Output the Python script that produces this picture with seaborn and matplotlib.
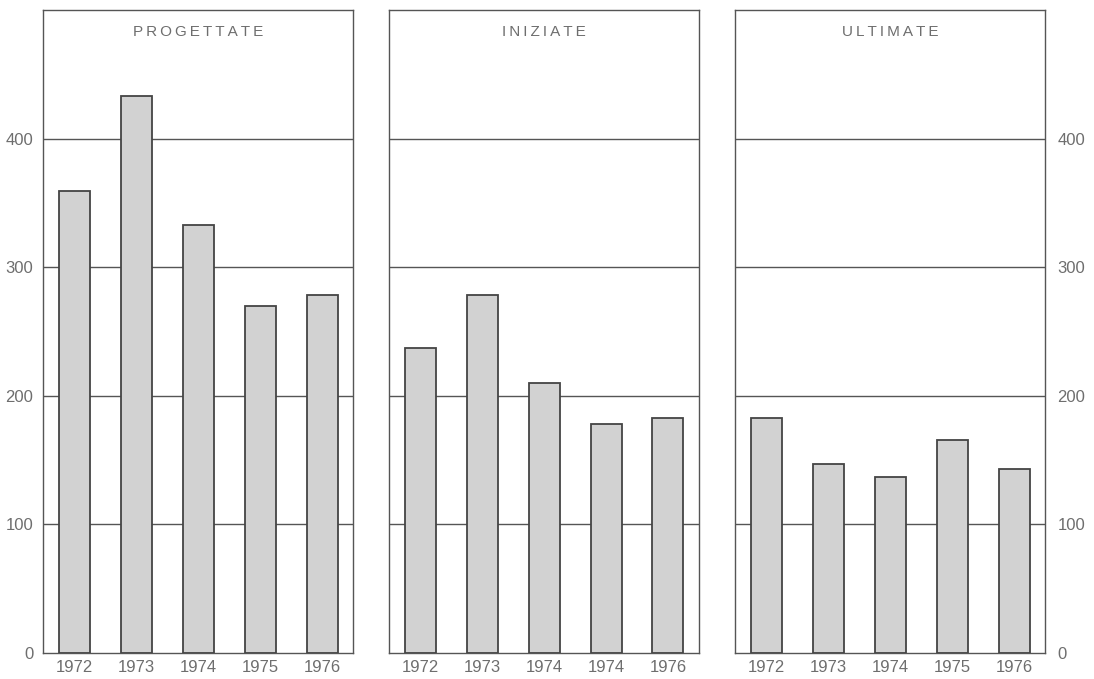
import matplotlib
matplotlib.use("Agg")
import matplotlib.pyplot as plt
import seaborn as sns

# ------------------------------------------------------------
# dati (valori stimati)
# ------------------------------------------------------------
anni = ["1972", "1973", "1974", "1975", "1976"]
etichette_iniziate = ["1972", "1973", "1974", "1974", "1976"]  # come nell'originale

progettate = [359, 433, 333, 270, 278]
iniziate = [237, 278, 210, 178, 183]
ultimate = [183, 147, 137, 166, 143]

titoli = ["PROGETTATE", "INIZIATE", "ULTIMATE"]
serie = [progettate, iniziate, ultimate]
etichette = [anni, etichette_iniziate, anni]
yticks = [0, 100, 200, 300, 400]

sns.set_theme(style="white")
plt.rcParams["font.family"] = ["Liberation Sans", "DejaVu Sans"]

GRIGIO_TESTO = "#6e6e6e"
GRIGIO_LINEE = "#555555"
RIEMPIMENTO = "#d2d2d2"

fig = plt.figure(figsize=(10.94, 6.79), dpi=100)

sinistre = [43 / 1094, 389 / 1094, 735 / 1094]
larghezza = 310 / 1094
basso = 26 / 679
altezza = 643 / 679

for i, (titolo, valori, labels) in enumerate(zip(titoli, serie, etichette)):
    ax = fig.add_axes([sinistre[i], basso, larghezza, altezza])
    posizioni = list(range(len(valori)))
    sns.barplot(x=posizioni, y=valori, ax=ax, color=RIEMPIMENTO,
                edgecolor="#444444", linewidth=1.3, width=0.5,
                saturation=1, zorder=3)
    ax.set_xlim(-0.5, len(valori) - 0.5)
    ax.set_ylim(0, 500)
    ax.set_xticks(posizioni)
    ax.set_xticklabels(labels)
    ax.set_yticks(yticks)
    ax.set_xlabel("")
    ax.set_ylabel("")

    # linee orizzontali di riferimento
    for v in yticks[1:]:
        ax.axhline(v, color=GRIGIO_LINEE, linewidth=1.0, zorder=1)

    for s in ax.spines.values():
        s.set_color(GRIGIO_LINEE)
        s.set_linewidth(1.0)
        s.set_visible(True)

    ax.tick_params(axis="both", length=0, labelsize=12, colors=GRIGIO_TESTO)
    ax.tick_params(axis="x", pad=5)
    ax.tick_params(axis="y", pad=7)

    if i == 0:
        ax.yaxis.tick_left()
    elif i == 2:
        ax.yaxis.tick_right()
        ax.tick_params(axis="y", pad=9)
    else:
        ax.set_yticklabels([])

    ax.text(0.5, 0.966, "\u2009".join(titolo), transform=ax.transAxes,
            ha="center", va="center", fontsize=11, color=GRIGIO_TESTO)

fig.savefig("out.png", dpi=100)
